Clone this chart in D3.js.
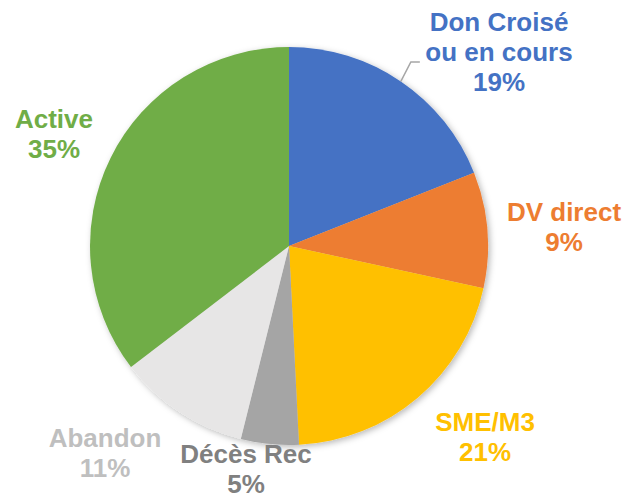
<!DOCTYPE html>
<html>
<head>
<meta charset="utf-8">
<script src="https://cdn.jsdelivr.net/npm/d3@7"></script>
<style>
  html, body { margin: 0; padding: 0; background: #fff; }
  svg { display: block; }
</style>
</head>
<body>
<svg id="chart" width="627" height="498"></svg>
<script>
// Data
const categories = ["Don Croisé\nou en cours", "DV direct", "SME/M3", "Décès Rec", "Abandon", "Active"];
const values = [19.0, 9.4, 20.8, 4.7, 10.7, 35.4];
const percentLabels = ["19%", "9%", "21%", "5%", "11%", "35%"];

// Styles / layout
const sliceColors = ["#4472C4", "#ED7D31", "#FFC000", "#A5A5A5", "#E7E6E6", "#70AD47"];
const labelColors = ["#4472C4", "#ED7D31", "#FFC000", "#808080", "#BFBFBF", "#70AD47"];
const labelPos = [[499, 31], [564, 221], [485, 431], [246, 463], [105, 447], [54, 128]];

const W = 627, H = 498;
const cx = 289, cy = 246, R = 199;
const svg = d3.select("#chart");

const defs = svg.append("defs");
const f = defs.append("filter").attr("id", "shadow")
  .attr("x", "-20%").attr("y", "-20%").attr("width", "140%").attr("height", "140%");
f.append("feDropShadow").attr("dx", 2).attr("dy", 2).attr("stdDeviation", 3)
  .attr("flood-color", "#000").attr("flood-opacity", 0.28);

const pie = d3.pie().sort(null).value(d => d);
const arcs = pie(values);
const arc = d3.arc().innerRadius(0).outerRadius(R);

const g = svg.append("g").attr("transform", `translate(${cx},${cy})`);
g.append("g").attr("filter", "url(#shadow)")
  .selectAll("path").data(arcs).enter().append("path")
  .attr("d", arc)
  .attr("fill", (d, i) => sliceColors[i]);

// Leader line for first slice
const a0 = arcs[0];
const mid = (a0.startAngle + a0.endAngle) / 2;
const p0 = [cx + R * Math.sin(mid), cy - R * Math.cos(mid)];
svg.append("path")
  .attr("d", `M${p0[0]},${p0[1]} L${p0[0] + 10},${62} L${p0[0] + 19},${62}`)
  .attr("fill", "none").attr("stroke", "#A6A6A6").attr("stroke-width", 1.5);

// Labels
const lineH = 30;
categories.forEach((c, i) => {
  const lines = c.split("\n").concat([percentLabels[i]]);
  const t = svg.append("text")
    .attr("x", labelPos[i][0]).attr("y", labelPos[i][1])
    .attr("text-anchor", "middle")
    .attr("font-family", "Liberation Sans, Arial, sans-serif")
    .attr("font-weight", "bold")
    .attr("font-size", 26)
    .attr("fill", labelColors[i]);
  lines.forEach((l, j) => {
    t.append("tspan").attr("x", labelPos[i][0]).attr("dy", j === 0 ? 0 : lineH).text(l);
  });
});
</script>
</body>
</html>
